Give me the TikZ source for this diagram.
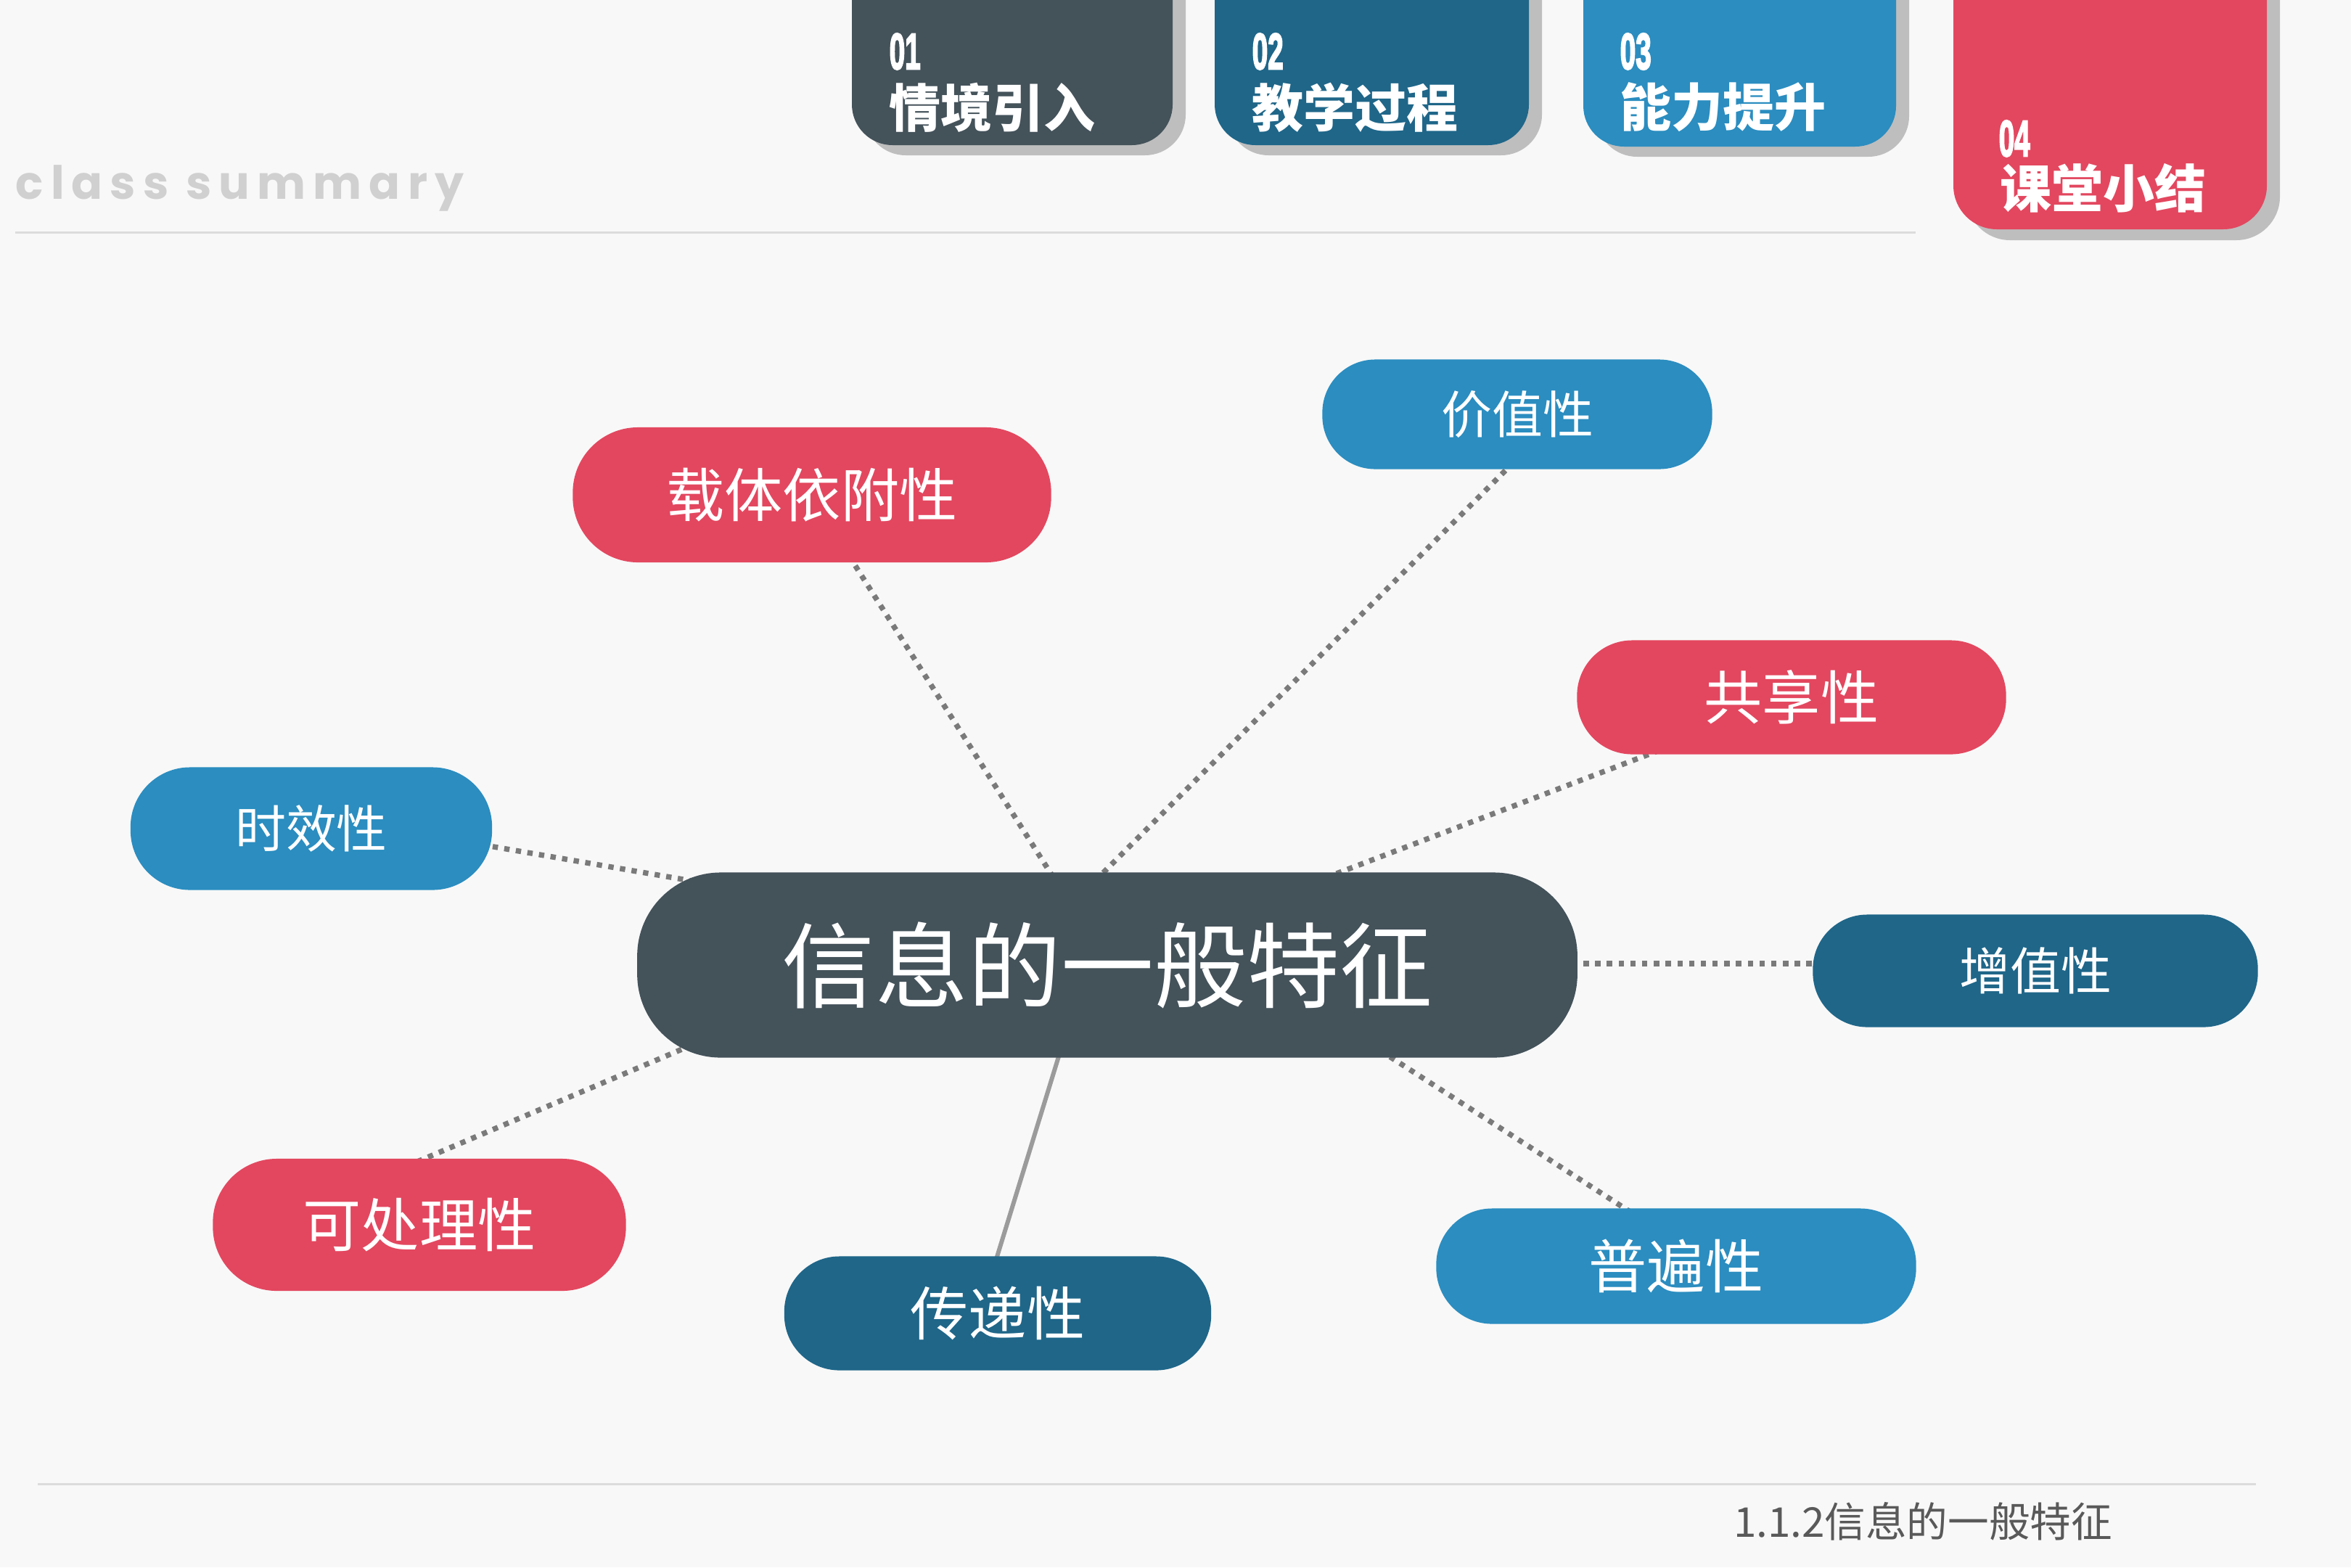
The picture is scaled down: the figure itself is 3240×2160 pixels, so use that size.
\documentclass[tikz,border=0pt]{standalone}
\usepackage{fontspec}
\usepackage{graphicx}
\setmainfont{Noto Sans CJK SC}
\newfontfamily\numfont[FakeBold=3.5]{Liberation Sans}
\newfontfamily\classfont[LetterSpace=16]{Poppins}
\definecolor{bgc}{HTML}{F8F8F8}
\definecolor{cslate}{HTML}{44525A}
\definecolor{cdblue}{HTML}{1F6689}
\definecolor{cblue}{HTML}{2B8DC0}
\definecolor{cred}{HTML}{E3475F}
\definecolor{cshadow}{HTML}{BEBEBE}
\definecolor{conngray}{HTML}{7A7A7A}
\definecolor{solidgray}{HTML}{9B9B9B}
\definecolor{rulegray}{HTML}{DCDCDC}
\definecolor{classgray}{HTML}{D0D0D0}
\definecolor{footgray}{HTML}{595959}
\pgfdeclarelayer{bglayer}
\pgfdeclarelayer{linelayer}
\pgfsetlayers{bglayer,linelayer,main}
\newcommand{\condnum}[1]{\scalebox{0.55}[1]{\numfont\bfseries #1}}
\tikzset{
  pill/.style={rectangle, text=white, inner sep=0pt},
  bigtxt/.style={font=\fontsize{22.8}{24}\selectfont},
  smalltxt/.style={font=\fontsize{19.9}{21}\selectfont},
  dotconn/.style={draw=conngray, line width=2.1pt, dash pattern=on 2.1pt off 2.5pt},
  solidconn/.style={draw=solidgray, line width=1.7pt},
  tabnum/.style={text=white, inner sep=0pt, anchor=west, font=\fontsize{20}{21}\selectfont},
  tabtxt/.style={text=white, inner sep=0pt, anchor=west, font=\bfseries\fontsize{20.2}{21}\selectfont},
  rule/.style={draw=rulegray, line width=0.85pt},
}
\begin{document}
\begin{tikzpicture}[x=0.01cm,y=-0.01cm]
\useasboundingbox (0,0) rectangle (3240,2160);
\begin{pgfonlayer}{bglayer}
\fill[bgc] (0,0) rectangle (3240,2160);
\end{pgfonlayer}

% header
\node[anchor=base west, inner sep=0pt, text=classgray, font=\classfont\bfseries\fontsize{18}{18}\selectfont] (cls) at (21,274) {class summary};
\draw[rule] (21,320) -- (2640,320);
\draw[rule] (52,2045) -- (3109,2045);

% tabs
\fill[cshadow, rounded corners=0.56cm] (1192,-100) rectangle (1634,214);
\fill[cslate, rounded corners=0.56cm] (1174,-100) rectangle (1616,200);
\fill[cshadow, rounded corners=0.56cm] (1692,-100) rectangle (2125,214);
\fill[cdblue, rounded corners=0.56cm] (1674,-100) rectangle (2107,200);
\fill[cshadow, rounded corners=0.56cm] (2200,-100) rectangle (2631,216);
\fill[cblue, rounded corners=0.56cm] (2182,-100) rectangle (2613,202);
\fill[cshadow, rounded corners=0.6cm] (2710,-100) rectangle (3142,331);
\fill[cred, rounded corners=0.6cm] (2692,-100) rectangle (3124,316);

\node[tabnum] (n1) at (1225,71) {\condnum{01}};
\node[tabtxt] (t1) at (1225,148) {情境引入};
\node[tabnum] (n2) at (1725,71) {\condnum{02}};
\node[tabtxt] (t2) at (1725,148) {教学过程};
\node[tabnum] (n3) at (2232,71) {\condnum{03}};
\node[tabtxt] (t3) at (2232,148) {能力提升};
\node[tabnum] (n4) at (2754,191) {\condnum{04}};
\node[tabtxt] (t4) at (2756,259) {课堂小结};

% central node
\node[pill, fill=cslate, minimum width=12.95cm, minimum height=2.55cm, rounded corners=1.15cm,
      font=\fontsize{36.4}{38}\selectfont] (c) at (1526,1330) {信息的一般特征};

% satellites
\node[pill, bigtxt, fill=cred, minimum width=6.59cm, minimum height=1.86cm, rounded corners=0.9cm] (zai) at (1119,682) {载体依附性};
\node[pill, smalltxt, fill=cblue, minimum width=5.37cm, minimum height=1.51cm, rounded corners=0.73cm] (jia) at (2091,571) {价值性};
\node[pill, bigtxt, fill=cred, minimum width=5.91cm, minimum height=1.57cm, rounded corners=0.76cm] (gong) at (2469,961) {共享性};
\node[pill, smalltxt, fill=cblue, minimum width=4.98cm, minimum height=1.69cm, rounded corners=0.82cm] (shi) at (429,1142) {时效性};
\node[pill, smalltxt, fill=cdblue, minimum width=6.13cm, minimum height=1.55cm, rounded corners=0.75cm] (zeng) at (2805,1338) {增值性};
\node[pill, bigtxt, fill=cred, minimum width=5.69cm, minimum height=1.82cm, rounded corners=0.88cm] (ke) at (578,1688) {可处理性};
\node[pill, bigtxt, fill=cdblue, minimum width=5.88cm, minimum height=1.57cm, rounded corners=0.76cm] (chuan) at (1375,1810) {传递性};
\node[pill, bigtxt, fill=cblue, minimum width=6.61cm, minimum height=1.59cm, rounded corners=0.77cm] (pu) at (2310,1745) {普遍性};

% connectors
\begin{pgfonlayer}{linelayer}
\draw[dotconn] ([shift={(51,84)}]zai.center) -- ([shift={(-72,-117)}]c.center);
\draw[dotconn] ([shift={(-5,66)}]jia.center) -- ([shift={(-13,-120)}]c.center);
\draw[dotconn] ([shift={(-182,73)}]gong.center) -- ([shift={(313,-125)}]c.center);
\draw[dotconn] ([shift={(234,22)}]shi.center) -- ([shift={(-561,-114)}]c.center);
\draw[dotconn] ([shift={(-292,-10)}]zeng.center) -- ([shift={(632,-2)}]c.center);
\draw[dotconn] ([shift={(-3,-87)}]ke.center) -- ([shift={(-572,110)}]c.center);
\draw[solidconn] ([shift={(-5,-65)}]chuan.center) -- ([shift={(-63,113)}]c.center);
\draw[dotconn] ([shift={(-62,-74)}]pu.center) -- ([shift={(378,119)}]c.center);
\end{pgfonlayer}

% footer
\node[inner sep=0pt, text=footgray, font=\fontsize{16.1}{17}\selectfont] (foot) at (2650,2097) {1.1.2信息的一般特征};
\end{tikzpicture}
\end{document}
